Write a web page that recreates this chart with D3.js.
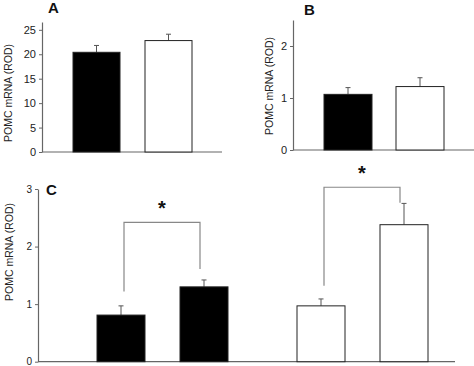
<!DOCTYPE html>
<html>
<head>
<meta charset="utf-8">
<script src="https://cdn.jsdelivr.net/npm/d3@7"></script>
<style>
  body { margin: 0; background: #fff; }
  svg { font-family: "Liberation Sans", Arial, sans-serif; }
</style>
</head>
<body>
<div id="chart"></div>
<script>
// panel A
const groupsA = ['ctrl', 'treat'];
const meansA = [20.4, 22.8];
const errTopA = [21.8, 24.1];
const ticksA = [0, 5, 10, 15, 20, 25];

// panel B
const groupsB = ['ctrl', 'treat'];
const meansB = [1.07, 1.22];
const errTopB = [1.20, 1.39];
const ticksB = [0, 1, 2];

// panel C
const groupsC = ['b1', 'b2', 'w1', 'w2'];
const meansC = [0.81, 1.30, 0.97, 2.38];
const errTopC = [0.97, 1.42, 1.09, 2.75];
const fillsC = ['black', 'black', 'white', 'white'];
const ticksC = [0, 1, 2, 3];

const yLabel = 'POMC mRNA (ROD)';
const axisColor = '#666';

const svg = d3.select('#chart').append('svg')
  .attr('width', 474)
  .attr('height', 366);

function drawPanel(cfg) {
  const y = d3.scaleLinear().domain(cfg.domain).range([cfg.y0, cfg.y1]);
  const x = d3.scaleOrdinal().domain(cfg.groups).range(cfg.barX);

  const g = svg.append('g');

  // baseline
  g.append('line')
    .attr('x1', cfg.axisX).attr('x2', cfg.baseEnd)
    .attr('y1', y(0)).attr('y2', y(0))
    .attr('stroke', axisColor).attr('stroke-width', 1.2);

  const ax = g.append('g')
    .attr('transform', `translate(${cfg.axisX},0)`)
    .call(d3.axisLeft(y).tickValues(cfg.ticks).tickFormat(d3.format('d')).tickSize(3).tickSizeOuter(0));
  ax.select('.domain').attr('stroke', axisColor).attr('stroke-width', 1.2);
  ax.selectAll('.tick line').attr('stroke', axisColor);
  ax.selectAll('.tick text')
    .attr('font-size', cfg.tickFont || 11)
    .attr('font-family', '"Liberation Sans", Arial, sans-serif')
    .attr('fill', '#222');

  // error bars (upper only)
  cfg.groups.forEach((k, i) => {
    const cx = x(k) + cfg.barW / 2;
    g.append('line')
      .attr('x1', cx).attr('x2', cx)
      .attr('y1', y(cfg.means[i])).attr('y2', y(cfg.errTop[i]))
      .attr('stroke', '#555').attr('stroke-width', 1);
    g.append('line')
      .attr('x1', cx - 2.5).attr('x2', cx + 2.5)
      .attr('y1', y(cfg.errTop[i])).attr('y2', y(cfg.errTop[i]))
      .attr('stroke', '#555').attr('stroke-width', 1);
  });

  g.selectAll('rect.bar')
    .data(cfg.groups)
    .join('rect')
    .attr('class', 'bar')
    .attr('x', (d) => x(d))
    .attr('y', (d, i) => y(cfg.means[i]))
    .attr('width', cfg.barW)
    .attr('height', (d, i) => y(0) - y(cfg.means[i]))
    .attr('fill', (d, i) => cfg.fills[i])
    .attr('stroke', '#222')
    .attr('stroke-width', 1);

  // panel letter
  g.append('text')
    .attr('x', cfg.letterX).attr('y', cfg.letterY)
    .attr('font-size', 15).attr('font-weight', 'bold')
    .attr('fill', '#111')
    .text(cfg.letter);

  // axis title
  g.append('text')
    .attr('transform', `translate(${cfg.labelX},${cfg.labelY}) rotate(-90)`)
    .attr('text-anchor', 'middle')
    .attr('font-size', 10.5)
    .attr('fill', '#222')
    .text(yLabel);

  return { g, x, y };
}

drawPanel({
  groups: groupsA, means: meansA, errTop: errTopA, ticks: ticksA,
  fills: ['black', 'white'],
  domain: [0, 26.6], y0: 152, y1: 22,
  axisX: 42, baseEnd: 222, barX: [73, 145], barW: 47,
  letter: 'A', letterX: 48, letterY: 13,
  labelX: 12, labelY: 93
});

drawPanel({
  groups: groupsB, means: meansB, errTop: errTopB, ticks: ticksB,
  fills: ['black', 'white'],
  domain: [0, 2.5], y0: 150, y1: 20,
  axisX: 293, baseEnd: 474, barX: [324, 396], barW: 48,
  letter: 'B', letterX: 304, letterY: 15,
  labelX: 273, labelY: 86
});

const pc = drawPanel({
  groups: groupsC, means: meansC, errTop: errTopC, ticks: ticksC,
  fills: fillsC, tickFont: 10,
  domain: [0, 3], y0: 361.7, y1: 189,
  axisX: 38, baseEnd: 455, barX: [97, 180, 297, 380], barW: 48,
  letter: 'C', letterX: 46, letterY: 195,
  labelX: 13, labelY: 252
});

// significance brackets in panel C
const brackets = [
  { a: 0, b: 1, top: 2.42, legA: 1.22, legB: 1.61 },
  { a: 2, b: 3, top: 3.03, legA: 1.32, legB: 2.76 }
];
brackets.forEach((br) => {
  const xa = pc.x(groupsC[br.a]) + 27;
  const xb = pc.x(groupsC[br.b]) + 20;
  const path = d3.path();
  path.moveTo(xa, pc.y(br.legA));
  path.lineTo(xa, pc.y(br.top));
  path.lineTo(xb, pc.y(br.top));
  path.lineTo(xb, pc.y(br.legB));
  pc.g.append('path')
    .attr('d', path.toString())
    .attr('fill', 'none')
    .attr('stroke', '#888')
    .attr('stroke-width', 1.2);
  pc.g.append('text')
    .attr('x', (xa + xb) / 2)
    .attr('y', pc.y(br.top) - 7)
    .attr('text-anchor', 'middle')
    .attr('font-size', 20)
    .attr('font-weight', 'bold')
    .attr('fill', '#111')
    .text('*');
});
</script>
</body>
</html>
